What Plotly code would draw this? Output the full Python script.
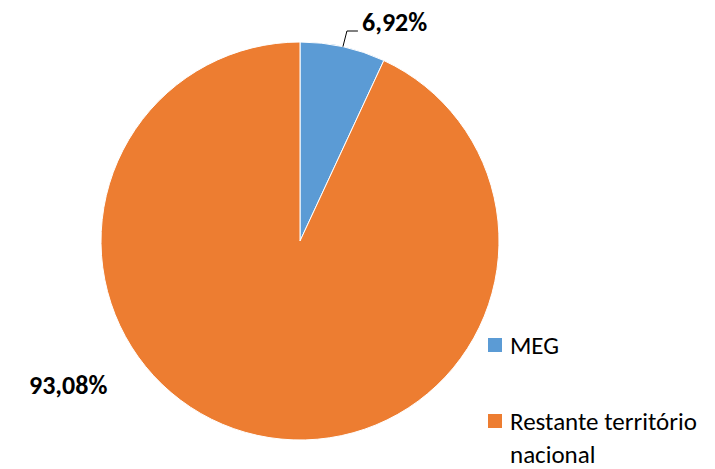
import math
import textwrap
import plotly.graph_objects as go

categories = ["MEG", "Restante território nacional"]
values = [6.92, 93.08]
colors = ["#5B9BD5", "#ED7D31"]

W, H = 715, 469
cx, cy, R = 300, 241, 199  # pixel geometry of the pie
FONT = "Carlito, Lato, 'Open Sans', sans-serif"

def px(x):
    return x / W

def py(y):
    return 1 - y / H

fig = go.Figure(go.Pie(
    labels=categories, values=values, sort=False, direction="clockwise", rotation=0,
    marker=dict(colors=colors, line=dict(color="white", width=1)),
    textinfo="none", hoverinfo="label+percent", showlegend=False,
    domain=dict(x=[px(cx - R), px(cx + R)], y=[py(cy + R), py(cy - R)]),
))

def fmt(v):
    return f"{v:.2f}".replace(".", ",") + "%"

annotations = []
shapes = []
total = sum(values)
# small slice label with leader line
mid = (values[0] / 2) / total * 2 * math.pi
ex, ey = cx + R * math.sin(mid), cy - R * math.cos(mid)
kx, ky = ex + 4, 31
hx = kx + 11
shapes.append(dict(type="path", xref="paper", yref="paper",
                   path=f"M {px(ex)} {py(ey)} L {px(kx)} {py(ky)} L {px(hx)} {py(ky)}",
                   line=dict(color="black", width=1)))
annotations.append(dict(x=px(hx + 2), y=py(22), xref="paper", yref="paper",
                        xanchor="left", yanchor="middle", showarrow=False,
                        text=f"<b>{fmt(values[0])}</b>", font=dict(family=FONT, size=26, color="black")))
# large slice label
annotations.append(dict(x=px(68), y=py(385), xref="paper", yref="paper",
                        xanchor="center", yanchor="middle", showarrow=False,
                        text=f"<b>{fmt(values[1])}</b>", font=dict(family=FONT, size=26, color="black")))

# custom legend
leg_y = [345, 421]
for cat, col, yy in zip(categories, colors, leg_y):
    shapes.append(dict(type="rect", xref="paper", yref="paper",
                       x0=px(488), x1=px(502), y0=py(yy - 7), y1=py(yy + 7),
                       fillcolor=col, line=dict(width=0)))
    lines = textwrap.wrap(cat, 19)
    annotations.append(dict(x=px(508), y=py(yy - 17), xref="paper", yref="paper",
                            xanchor="left", yanchor="top", align="left", showarrow=False,
                            text="<br>".join(lines), font=dict(family=FONT, size=25, color="black")))

fig.update_layout(width=W, height=H, margin=dict(l=0, r=0, t=0, b=0),
                  paper_bgcolor="white", plot_bgcolor="white",
                  annotations=annotations, shapes=shapes)
fig.write_html("out.html", config={"displayModeBar": False},
               post_script="document.body.style.margin='0';document.body.style.overflow='hidden';")
